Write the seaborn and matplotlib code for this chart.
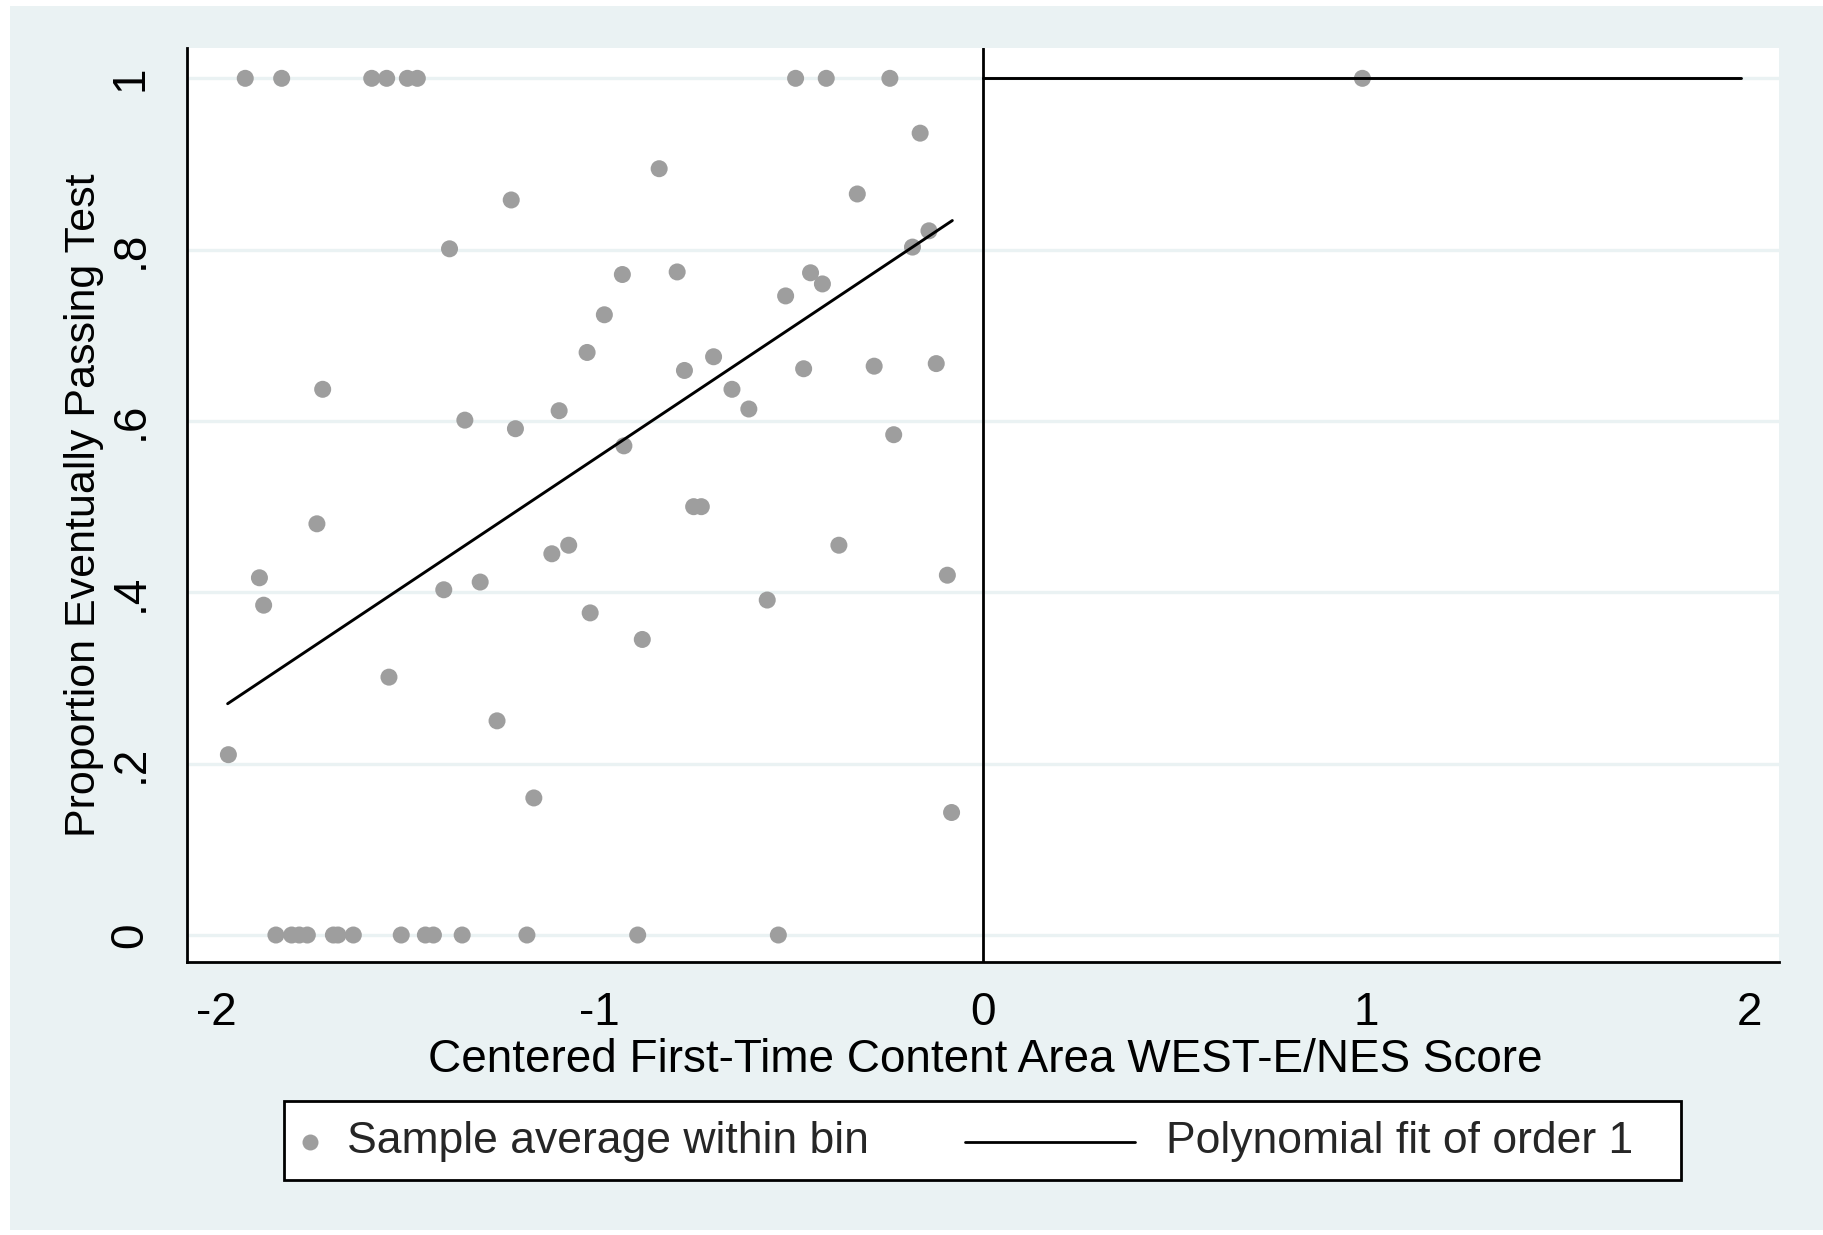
import numpy as np
import pandas as pd
import matplotlib
matplotlib.use("Agg")
import matplotlib.pyplot as plt
from matplotlib.patches import Rectangle
from matplotlib.lines import Line2D
import seaborn as sns

# ---------------- data ----------------
bin_x = [-1.925, -1.830, -1.595, -1.556, -1.502, -1.476, -0.489, -0.409, -0.243, 0.990,
         -1.231, -1.392, -0.988, -1.033, -1.723, -1.352, -1.220, -1.106,
         -0.164, -0.845, -0.328, -0.141, -0.184, -0.941, -0.798, -0.450, -0.419, -0.515,
         -0.703, -0.779, -0.468, -0.284, -0.122, -0.655, -0.611, -0.937, -0.233,
         -0.755, -0.735, -1.738, -1.888, -1.877, -1.969, -1.550, -1.407, -1.312, -1.268,
         -1.172, -1.125, -1.081, -1.025, -0.376, -0.093, -0.563, -0.889, -0.082,
         -1.845, -1.804, -1.784, -1.763, -1.695, -1.683, -1.643, -1.518, -1.455, -1.434,
         -1.359, -1.190, -0.901, -0.534]
bin_y = [1.0, 1.0, 1.0, 1.0, 1.0, 1.0, 1.0, 1.0, 1.0, 1.0,
         0.858, 0.801, 0.724, 0.680, 0.637, 0.601, 0.591, 0.612,
         0.936, 0.8945, 0.865, 0.822, 0.803, 0.771, 0.774, 0.773, 0.760, 0.746,
         0.675, 0.659, 0.661, 0.664, 0.667, 0.637, 0.614, 0.571, 0.584,
         0.500, 0.500, 0.480, 0.417, 0.385, 0.2105, 0.301, 0.403, 0.412, 0.250,
         0.160, 0.445, 0.455, 0.376, 0.455, 0.420, 0.391, 0.345, 0.143,
         0.0, 0.0, 0.0, 0.0, 0.0, 0.0, 0.0, 0.0, 0.0, 0.0,
         0.0, 0.0, 0.0, 0.0]

fit_left_x = [-1.971, -0.080]
fit_left_y = [0.270, 0.834]
fit_right_x = [0.0, 1.977]
fit_right_y = [1.0, 1.0]

x_ticks = [-2, -1, 0, 1, 2]
x_ticklabels = ["-2", "-1", "0", "1", "2"]
y_ticks = [0, 0.2, 0.4, 0.6, 0.8, 1.0]
y_ticklabels = ["0", ".2", ".4", ".6", ".8", "1"]

x_title = "Centered First-Time Content Area WEST-E/NES Score"
y_title = "Proportion Eventually Passing Test"
legend_labels = ["Sample average within bin", "Polynomial fit of order 1"]

# ---------------- style ----------------
sns.set_theme(style="white")
plt.rcParams["font.family"] = ["Liberation Sans", "DejaVu Sans"]

BG = "#EAF2F3"
MARK = "#9e9e9e"
W, H = 1823, 1235
FS_TICK = 33
FS_XT = 33
FS_YT = 31
FS_LEG = 32

fig = plt.figure(figsize=(W / 100, H / 100), dpi=100)
fig.patch.set_facecolor("white")
fig.patches.append(Rectangle((10 / W, 5 / H), 1 - 10 / W, (1230 - 6) / H,
                             transform=fig.transFigure, facecolor=BG,
                             edgecolor="none", zorder=-10))

ax_l, ax_r, ax_t, ax_b = 187, 1779, 48, 962
ax = fig.add_axes([ax_l / W, (H - ax_b) / H, (ax_r - ax_l) / W, (ax_b - ax_t) / H])
ax.set_facecolor("white")

df = pd.DataFrame({"x": bin_x, "y": bin_y})
sns.scatterplot(data=df, x="x", y="y", ax=ax, color=MARK, s=150,
                edgecolor="none", zorder=3, legend=False)
sns.lineplot(x=fit_left_x, y=fit_left_y, ax=ax, color="black", lw=2.1,
             estimator=None, sort=False, zorder=4)
sns.lineplot(x=fit_right_x, y=fit_right_y, ax=ax, color="black", lw=2.1,
             estimator=None, sort=False, zorder=4)
ax.axvline(0, color="black", lw=2.0, zorder=4)

ax.set_xlim(-2.077, 2.077)
ax.set_ylim(-0.0315, 1.0354)
ax.set_xticks(x_ticks)
ax.set_xticklabels(x_ticklabels, fontsize=FS_TICK)
ax.set_yticks(y_ticks)
ax.set_yticklabels(y_ticklabels, fontsize=FS_TICK, rotation=90, va="center")
ax.tick_params(axis="both", direction="out", length=12.7, width=1.4,
               color="black", labelcolor="black")
ax.tick_params(axis="x", pad=8)
ax.tick_params(axis="y", pad=12)
ax.yaxis.grid(True, color=BG, lw=2.4, zorder=0)
ax.xaxis.grid(False)
for side in ["top", "right"]:
    ax.spines[side].set_visible(False)
for side in ["left", "bottom"]:
    ax.spines[side].set_color("black")
    ax.spines[side].set_linewidth(2.0)

ax.set_xlabel(x_title, fontsize=FS_XT, color="black", va="center")
ax.xaxis.set_label_coords((985 - ax_l) / (ax_r - ax_l), (ax_b - 1060) / (ax_b - ax_t))
ax.set_ylabel(y_title, fontsize=FS_YT, color="black", va="center")
ax.yaxis.set_label_coords((84 - ax_l) / (ax_r - ax_l), 0.5)

# ---------------- legend (Stata-like box) ----------------
lx0, lx1, ly0, ly1 = 284, 1681, 1101, 1180
fig.patches.append(Rectangle((lx0 / W, (H - ly1) / H), (lx1 - lx0) / W, (ly1 - ly0) / H,
                             transform=fig.transFigure, facecolor="white",
                             edgecolor="black", lw=2.0, zorder=5))
yc = (H - 1142) / H
fig.lines.append(Line2D([310 / W], [yc], marker="o", ms=11.5, color=MARK,
                        markeredgecolor="none", transform=fig.transFigure, zorder=6))
fig.text(347 / W, yc, legend_labels[0], fontsize=FS_LEG, va="center", ha="left", zorder=6)
fig.lines.append(Line2D([965 / W, 1135 / W], [yc, yc], color="black", lw=2.0,
                        transform=fig.transFigure, zorder=6))
fig.text(1166 / W, yc, legend_labels[1], fontsize=FS_LEG, va="center", ha="left", zorder=6)

fig.savefig("out.png", dpi=100, facecolor=fig.get_facecolor())
